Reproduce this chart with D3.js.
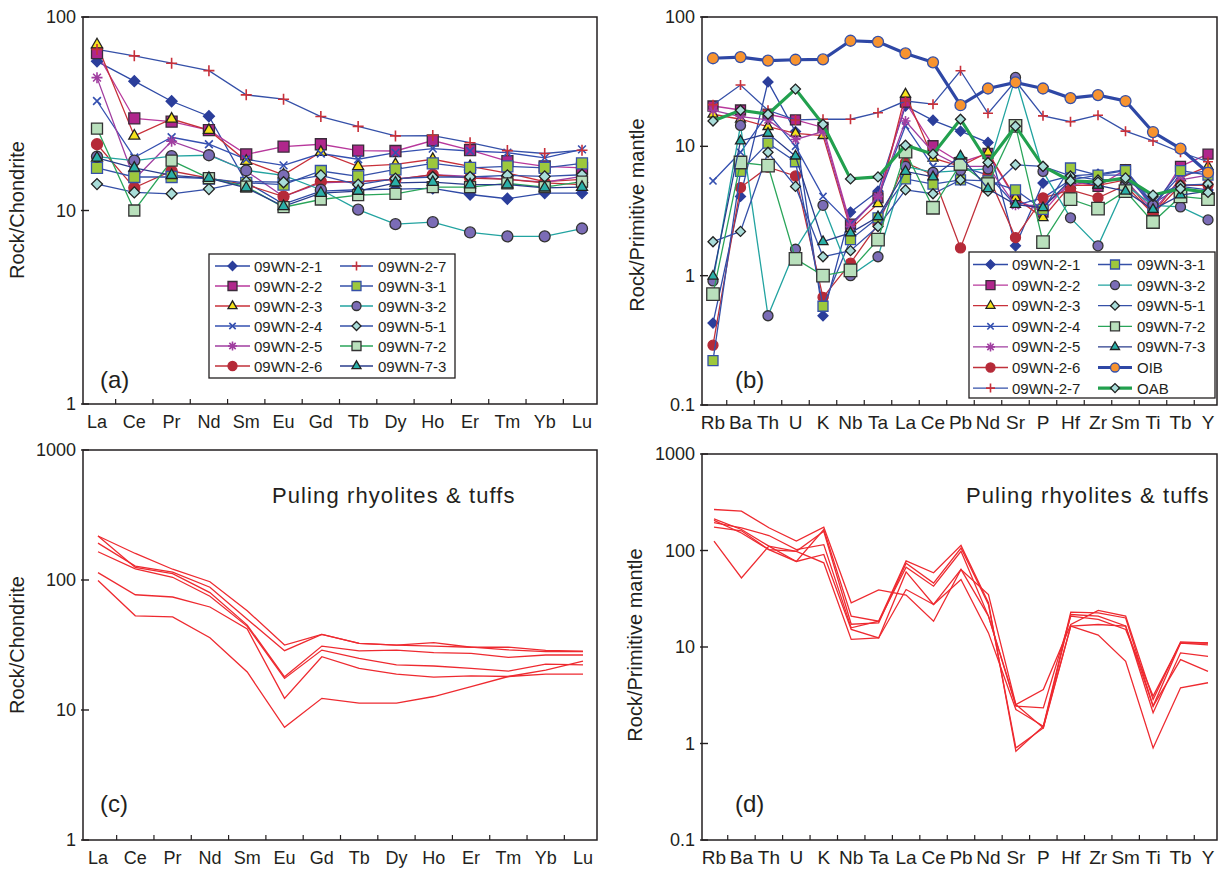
<!DOCTYPE html>
<html><head><meta charset="utf-8">
<script src="https://cdn.jsdelivr.net/npm/d3@7"></script>
<style>body{margin:0;background:#fff} text{font-family:"Liberation Sans",Arial,sans-serif;fill:#231f20}</style>
</head><body>
<svg id="c" width="1224" height="869"></svg>
<script>
// ---------- categories & tick labels ----------
const ree = ["La","Ce","Pr","Nd","Sm","Eu","Gd","Tb","Dy","Ho","Er","Tm","Yb","Lu"];
const spider = ["Rb","Ba","Th","U","K","Nb","Ta","La","Ce","Pb","Nd","Sr","P","Hf","Zr","Sm","Ti","Tb","Y"];
const ticksA = [1,10,100];
const ticksB = [0.1,1,10,100];
const ticksC = [1,10,100,1000];
const ticksD = [0.1,1,10,100,1000];
const samples = ["09WN-2-1","09WN-2-2","09WN-2-3","09WN-2-4","09WN-2-5","09WN-2-6","09WN-2-7",
                 "09WN-3-1","09WN-3-2","09WN-5-1","09WN-7-2","09WN-7-3"];

// ---------- panel (a): chondrite-normalised REE ----------
const a_2_1 = [59,46.6,36.7,30.7,14,10.8,12.6,12.8,12.9,13,12.1,11.5,12.3,12.3];
const a_2_2 = [65,29.9,28.8,26,19.5,21.4,22,20.4,20.3,23,20.5,18,16.9,16.6];
const a_2_3 = [72,24.3,29.7,26,18,15.3,20,16.9,17.3,18.4,16.9,15.6,14.1,14.5];
const a_2_4 = [36.8,18.8,23.9,22,18.4,17.1,19.7,18.4,19.9,20.9,20.3,19.9,18.7,20.7];
const a_2_5 = [48.6,14.5,22.8,19.5,16,11.8,13.9,14.1,14.5,15.3,15,14.5,14,15];
const a_2_6 = [22,13.1,16,14.7,13.6,11.8,14.1,14.1,14.5,15.3,14.7,14.5,13.9,13.6];
const a_2_7 = [68,63,57.7,52.8,39.6,37.6,30.6,27.2,24.3,24.4,22.4,20.4,19.7,20.5];
const a_3_1 = [16.6,14.9,14.9,14.6,13.9,13.6,16,15,16.3,17.5,16.6,16.9,16.6,17.5];
const a_3_2 = [19,18.1,19.1,19.3,16.1,15.2,12.8,10.1,8.5,8.7,7.7,7.35,7.35,8.07];
const a_5_1 = [13.7,12.4,12.2,12.9,14.1,14,15.2,13.6,14.6,14.9,14.9,15.2,15,15.3];
const a_7_2 = [26.5,10,18.1,14.7,13.3,10.4,11.4,12,12.2,13.2,13.2,13.8,13.2,14.1];
const a_7_3 = [18.7,16.6,15.2,14.7,13.1,10.5,12.3,12.6,13.9,14,13.6,13.6,13.1,13.2];

// ---------- panel (b): primitive-mantle-normalised spider ----------
const b_2_1 = [0.43,4.1,31.5,13,0.49,3.1,4.5,20.5,15.9,13.1,10.7,1.7,5.2,5.9,6.1,6.6,3.6,4.9,4.6];
const b_2_2 = [20.5,19.1,17.7,16.0,14,2.5,4.0,22.0,10.1,7.5,8.8,3.9,3.1,5.4,4.9,6.6,3.25,7.0,8.7];
const b_2_3 = [17.7,16.2,14.2,12.6,12.1,2.3,3.6,25.3,8.1,7.0,9.0,4.0,2.8,5.0,5.0,5.5,3.0,5.7,7.0];
const b_2_4 = [5.4,9,18,10,4.1,2.5,4,14.4,7,7,6,3.5,4,5.5,6,6,3.5,6,6.5];
const b_2_5 = [19,17,16,11.3,13,2.4,4.1,15.7,9,7,7,3.5,3.5,5,5.5,5.5,3.2,5.5,6];
const b_2_6 = [0.29,4.8,6.9,5.9,0.68,1.25,2.5,7.5,6,1.64,6,1.97,4.0,4.6,4.0,5,3,5,5];
const b_2_7 = [21,29.8,19,16,16.2,16.2,18.2,22.4,21.2,38.4,18.0,32,17.2,15.5,17.4,13.1,11.0,9,7.6];
const b_3_1 = [0.22,6.4,10.6,7.6,0.58,1.9,2.8,5.6,5.1,5.5,5.4,4.6,3.25,6.8,6,6.5,3.5,6.5,6];
const b_3_2 = [0.91,14.5,0.49,1.6,3.5,1.0,1.4,7,6.3,6.5,6.7,34.1,6.4,2.8,1.7,5,3.5,3.4,2.7];
const b_5_1 = [1.83,2.2,9.0,4.9,1.4,1.56,2.4,4.6,4.3,5.5,4.5,7.2,7.0,5.9,5.5,5.5,4.1,5,5.1];
const b_7_2 = [0.72,7.5,7.1,1.35,1.0,1.1,1.9,9.1,3.35,7.3,5.1,14.4,1.82,3.9,3.3,4.5,2.6,4.1,3.9];
const b_7_3 = [0.99,11.0,12.6,8.4,1.83,2.14,2.85,6.4,5.8,8.4,4.7,3.55,3.35,5.5,5,4.5,3.25,4.2,4.5];
const b_oib = [48,49,46,46.7,47,65.5,64.3,52.3,44.6,20.8,28.0,31.2,28.0,23.6,24.9,22.4,12.9,9.6,6.25];
const b_oab = [15.7,19.0,17.7,27.7,14.8,5.6,5.8,10.2,8.7,16.2,7.5,14.3,7.0,5.4,5.3,5.7,4.2,4.7,4.4];

// ---------- panel (c): Puling rhyolites & tuffs, REE ----------
const c_1 = [218,160,121,97,58,31.6,38.2,32.6,31.6,33.0,30.4,30.4,28.8,28.4];
const c_2 = [192,128,115,88,50,28.6,38.2,32.6,31.6,31.0,30.4,29.0,28.1,28.1];
const c_3 = [218,125,112,80,45,18.0,31.0,28.5,28.9,27.6,27.3,25.4,26.5,26.5];
const c_4 = [165,122,105,75,44,17.5,28.9,25.0,22.2,21.8,20.9,19.9,22.5,22.2];
const c_5 = [114,77,74,62,42,12.3,25.7,20.9,18.9,17.9,18.3,18.1,18.9,18.9];
const c_6 = [99,53,52,36,19.6,7.35,12.3,11.3,11.3,12.7,15.1,18.1,20.3,23.8];

// ---------- panel (d): Puling rhyolites & tuffs, spider ----------
const d_1 = [266,256,172,125,175,28.7,39,34.5,18.5,63.6,35,2.53,3.63,17.1,23.9,20.9,2.86,11.3,11.0];
const d_2 = [213,165,111,77,165,20.9,18.5,78,58.7,113,28.7,0.83,1.51,23.0,22.6,20.0,2.44,11.0,10.5];
const d_3 = [205,152,102,98,158,17.2,17.8,74,46,106,27.6,0.90,1.45,21.7,20.9,16.5,2.08,8.7,8.0];
const d_4 = [194,172,143,102,115,15.8,18.5,67,42.7,98,20.9,2.44,2.34,20.9,19.3,15.2,3.1,11.0,11.0];
const d_5 = [175,160,102,77,91,15.2,12.4,60,27.6,50,14.0,2.25,1.51,16.5,13.3,7.1,0.9,3.78,4.26];
const d_6 = [125,52,111,98,74.5,12.0,12.4,39.4,27.6,63.6,20.9,2.53,1.45,16.5,17.1,16.5,2.44,7.4,5.6];

// ---------- build tables ----------
const aVals = [a_2_1,a_2_2,a_2_3,a_2_4,a_2_5,a_2_6,a_2_7,a_3_1,a_3_2,a_5_1,a_7_2,a_7_3];
const bVals = [b_2_1,b_2_2,b_2_3,b_2_4,b_2_5,b_2_6,b_2_7,b_3_1,b_3_2,b_5_1,b_7_2,b_7_3];
const seriesA = samples.map((n,i)=>({name:n, vals:aVals[i]}));
const seriesB = samples.map((n,i)=>({name:n, vals:bVals[i]})).concat([{name:"OAB",vals:b_oab},{name:"OIB",vals:b_oib}]);
const seriesC = [c_1,c_2,c_3,c_4,c_5,c_6];
const seriesD = [d_1,d_2,d_3,d_4,d_5,d_6];

const BL = "#2f4aa6";
const style = {
 "09WN-2-1":{sym:"diamond",fill:"#2b3e9b",stroke:"#2b3e9b",line:BL},
 "09WN-2-2":{sym:"square",fill:"#b0268c",stroke:"#3b2b3b",line:"#b8389c"},
 "09WN-2-3":{sym:"triangle",fill:"#f6e21c",stroke:"#222",line:"#c8303a"},
 "09WN-2-4":{sym:"times",fill:"none",stroke:"#3550b0",line:"#3550b0"},
 "09WN-2-5":{sym:"asterisk",fill:"none",stroke:"#a03ea0",line:"#a03ea0"},
 "09WN-2-6":{sym:"circle",fill:"#b52a38",stroke:"#b52a38",line:"#c0303a"},
 "09WN-2-7":{sym:"plus",fill:"none",stroke:"#c8303a",line:"#3550a8"},
 "09WN-3-1":{sym:"square",fill:"#9dc83d",stroke:"#3550a8",line:"#3550a8"},
 "09WN-3-2":{sym:"circle",fill:"#7b6cb6",stroke:"#333",line:"#22a3a0"},
 "09WN-5-1":{sym:"diamond",fill:"#a9ddd9",stroke:"#222",line:"#3550a8"},
 "09WN-7-2":{sym:"square",fill:"#b9e0bc",stroke:"#333",line:"#2aa55a"},
 "09WN-7-3":{sym:"triangle",fill:"#2ab0a8",stroke:"#222",line:"#2a3c8c"},
 "OIB":{sym:"circle",fill:"#f7932f",stroke:"#3550a8",line:"#2e47a5",lw:3.2},
 "OAB":{sym:"diamond",fill:"#a9ddd9",stroke:"#222",line:"#22a04e",lw:3.2}
};

function symPath(type,w){
  if(type==="square") return d3.symbol(d3.symbolSquare, w*w)();
  if(type==="diamond") return d3.symbol(d3.symbolSquare, w*w/2)();
  if(type==="triangle") return d3.symbol(d3.symbolTriangle, Math.sqrt(3)/4*w*w)();
  if(type==="circle") return d3.symbol(d3.symbolCircle, Math.PI*w*w/4)();
  const r=w/2, p=d3.path();
  const arm=(a)=>{const c=Math.cos(a)*r,s=Math.sin(a)*r;p.moveTo(-c,-s);p.lineTo(c,s);};
  if(type==="plus"){arm(0);arm(Math.PI/2);}
  if(type==="times"){arm(Math.PI/4);arm(-Math.PI/4);}
  if(type==="asterisk"){arm(0);arm(Math.PI/2);arm(Math.PI/4);arm(-Math.PI/4);}
  return p.toString();
}
function drawMarker(g,x,y,name,w){
  const st=style[name];
  const stroked = ["plus","times","asterisk"].includes(st.sym);
  g.append("path").attr("d",symPath(st.sym,w))
   .attr("transform",`translate(${x},${y})`+(st.sym==="diamond"?" rotate(45)":""))
   .attr("fill",stroked?"none":st.fill).attr("stroke",st.stroke)
   .attr("stroke-width",stroked?1.6:1.3);
}

const svg = d3.select("#c");
const fmt = d => String(d);

function panel(cfg){
  const g = svg.append("g");
  const x = d3.scalePoint().domain(cfg.cats).range(cfg.xr);
  const y = d3.scaleLog().domain(cfg.yd).range([cfg.y1,cfg.y0]);
  const step = x.step();
  const cid = "clip"+cfg.id;
  svg.append("clipPath").attr("id",cid).append("rect")
    .attr("x",cfg.x0).attr("y",cfg.y0).attr("width",cfg.x1-cfg.x0).attr("height",cfg.y1-cfg.y0);
  const plot = g.append("g").attr("clip-path",`url(#${cid})`);
  cfg.draw(plot,x,y);
  g.append("rect").attr("x",cfg.x0).attr("y",cfg.y0).attr("width",cfg.x1-cfg.x0).attr("height",cfg.y1-cfg.y0)
    .attr("fill","none").attr("stroke","#231f20").attr("stroke-width",1.5);
  cfg.ticks.forEach(t=>{
    g.append("line").attr("x1",cfg.x0-2).attr("x2",cfg.x0+6).attr("y1",y(t)).attr("y2",y(t))
      .attr("stroke","#231f20").attr("stroke-width",1.4);
    g.append("text").attr("x",cfg.x0-7).attr("y",y(t)).attr("text-anchor","end")
      .attr("dominant-baseline","central").attr("font-size",18).text(fmt(t));
  });
  cfg.cats.forEach((c,i)=>{
    if(i<cfg.cats.length-1){
      const xm = x(c)+step/2;
      g.append("line").attr("x1",xm).attr("x2",xm).attr("y1",cfg.y1).attr("y2",cfg.y1-5)
       .attr("stroke","#231f20").attr("stroke-width",1.2);
    }
    g.append("text").attr("x",x(c)).attr("y",cfg.y1+24).attr("text-anchor","middle")
      .attr("font-size",cfg.xfs||18).text(c);
  });
  g.append("text").attr("transform",`translate(${cfg.tx},${cfg.ty}) rotate(-90)`)
    .attr("text-anchor","middle").attr("font-size",20).text(cfg.title);
  if(cfg.tag) g.append("text").attr("x",cfg.tag[0]).attr("y",cfg.tag[1]).attr("font-size",24).text(cfg.tag[2]);
  if(cfg.note) g.append("text").attr("x",cfg.note[0]).attr("y",cfg.note[1]).attr("font-size",22)
      .attr("letter-spacing",1.1).text(cfg.note[2]);
  return g;
}

function drawSeries(plot,x,y,cats,series,w){
  series.forEach(s=>{
    const st=style[s.name];
    const line=d3.line().x((d,i)=>x(cats[i])).y(d=>y(d));
    plot.append("path").attr("d",line(s.vals)).attr("fill","none")
      .attr("stroke",st.line).attr("stroke-width",st.lw||1.3);
  });
  series.forEach(s=>{
    s.vals.forEach((v,i)=>drawMarker(plot,x(cats[i]),y(v),s.name,w));
  });
}
function drawSeriesOrdered(plot,x,y,cats,series,w){
  series.forEach(s=>{
    const st=style[s.name];
    const line=d3.line().x((d,i)=>x(cats[i])).y(d=>y(d));
    plot.append("path").attr("d",line(s.vals)).attr("fill","none")
      .attr("stroke",st.line).attr("stroke-width",st.lw||1.3);
    let ww = (s.name==="09WN-7-2")? w+2.5 : w;
    if(s.name==="OIB") ww=w+1;
    s.vals.forEach((v,i)=>drawMarker(plot,x(cats[i]),y(v),s.name,ww));
  });
}
function drawRed(plot,x,y,cats,lines){
  lines.forEach(vals=>{
    const line=d3.line().x((d,i)=>x(cats[i])).y(d=>y(d));
    plot.append("path").attr("d",line(vals)).attr("fill","none")
      .attr("stroke","#ee2a30").attr("stroke-width",1.3);
  });
}

function legend(g,box,cols,rowY0,rowDy,w){
  g.append("rect").attr("x",box[0]).attr("y",box[1]).attr("width",box[2]).attr("height",box[3])
   .attr("fill","#fff").attr("stroke","#231f20").attr("stroke-width",1.3);
  cols.forEach(col=>{
    col.names.forEach((n,i)=>{
      const yy=rowY0+i*rowDy, st=style[n];
      g.append("line").attr("x1",col.l0).attr("x2",col.l1).attr("y1",yy).attr("y2",yy)
        .attr("stroke",st.line).attr("stroke-width",st.lw||1.3);
      drawMarker(g,(col.l0+col.l1)/2,yy,n,w);
      g.append("text").attr("x",col.tx).attr("y",yy).attr("dominant-baseline","central")
        .attr("font-size",15).text(n);
    });
  });
}

// (a)
const gA = panel({id:"a",cats:ree,xr:[97,582],yd:[1,100],x0:83,x1:597,y0:17,y1:404,ticks:ticksA,
  title:"Rock/Chondrite",tx:24,ty:210,tag:[100,388,"(a)"],
  draw:(p,x,y)=>drawSeries(p,x,y,ree,seriesA,11)});
legend(gA,[209,254,246,124],[
  {names:samples.slice(0,6),l0:215,l1:250,tx:254},
  {names:samples.slice(6,12),l0:340,l1:373,tx:378}],266,20,9);

// (b)
const gB = panel({id:"b",cats:spider,xr:[713,1208],yd:[0.1,100],x0:702,x1:1217,y0:17,y1:405,ticks:ticksB,xfs:19,
  title:"Rock/Primitive mantle",tx:644,ty:215,tag:[735,388,"(b)"],
  draw:(p,x,y)=>drawSeriesOrdered(p,x,y,spider,seriesB,10)});
legend(gB,[969,252,246,146],[
  {names:samples.slice(0,7),l0:973,l1:1008,tx:1012},
  {names:samples.slice(7,12).concat(["OIB","OAB"]),l0:1098,l1:1132,tx:1137}],264.5,20.6,9);

// (c)
panel({id:"c",cats:ree,xr:[98,583],yd:[1,1000],x0:83,x1:597,y0:450,y1:840,ticks:ticksC,
  title:"Rock/Chondrite",tx:24,ty:645,tag:[100,812,"(c)"],note:[272,503,"Puling rhyolites & tuffs"],
  draw:(p,x,y)=>drawRed(p,x,y,ree,seriesC)});

// (d)
panel({id:"d",cats:spider,xr:[714,1208],yd:[0.1,1000],x0:702,x1:1217,y0:454,y1:840,ticks:ticksD,xfs:19,
  title:"Rock/Primitive mantle",tx:642,ty:645,tag:[735,812,"(d)"],note:[966,503,"Puling rhyolites & tuffs"],
  draw:(p,x,y)=>drawRed(p,x,y,spider,seriesD)});
</script>
</body></html>
